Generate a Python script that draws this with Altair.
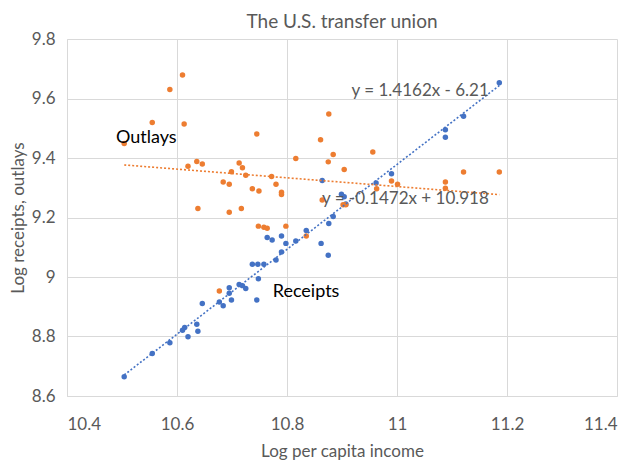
import altair as alt
import pandas as pd

receipts_x = [10.504, 10.555, 10.587, 10.610, 10.614, 10.620, 10.636, 10.638, 10.646, 10.677,
              10.684, 10.695, 10.695, 10.699, 10.713, 10.719, 10.725, 10.737, 10.745, 10.747,
              10.748, 10.758, 10.764, 10.773, 10.780, 10.790, 10.790, 10.798, 10.816, 10.835,
              10.862, 10.864, 10.875, 10.876, 10.884, 10.899, 10.904, 10.907, 10.962, 10.990,
              11.088, 11.088, 11.121, 11.186]
receipts_y = [8.665, 8.743, 8.779, 8.821, 8.830, 8.799, 8.841, 8.818, 8.911, 8.916,
              8.903, 8.964, 8.945, 8.923, 8.975, 8.971, 8.961, 9.043, 8.923, 9.043,
              8.994, 9.043, 9.133, 9.124, 9.057, 9.138, 9.084, 9.113, 9.121, 9.156,
              9.113, 9.324, 9.073, 9.180, 9.203, 9.278, 9.270, 9.245, 9.316, 9.347,
              9.495, 9.470, 9.540, 9.653]

outlays_x = [10.504, 10.555, 10.587, 10.610, 10.613, 10.620, 10.636, 10.638, 10.646, 10.677,
             10.684, 10.695, 10.695, 10.699, 10.713, 10.717, 10.719, 10.725, 10.737, 10.745,
             10.748, 10.749, 10.758, 10.764, 10.772, 10.780, 10.790, 10.790, 10.798, 10.816,
             10.835, 10.861, 10.864, 10.875, 10.876, 10.884, 10.902, 10.904, 10.907, 10.956,
             10.963, 10.990, 11.001, 11.088, 11.088, 11.121, 11.186]
outlays_y = [9.449, 9.519, 9.630, 9.679, 9.514, 9.372, 9.388, 9.230, 9.380, 8.953,
             9.319, 9.312, 9.218, 9.354, 9.383, 9.230, 9.367, 9.342, 9.297, 9.481,
             9.171, 9.289, 9.167, 9.164, 9.338, 9.312, 9.285, 9.277, 9.171, 9.398,
             9.138, 9.461, 9.259, 9.387, 9.548, 9.412, 9.243, 9.361, 9.243, 9.420,
             9.297, 9.323, 9.312, 9.319, 9.298, 9.353, 9.353]

series_names = ["Receipts", "Outlays"]
series_colors = ["#4472C4", "#ED7D31"]

eq_labels = ["y = 1.4162x - 6.21", "y = -0.1472x + 10.918"]
eq_x = [11.167, 11.167]
eq_y = [9.625, 9.262]

name_labels = ["Outlays", "Receipts"]
name_x = [10.489, 10.774]
name_y = [9.466, 8.949]

df = pd.concat([
    pd.DataFrame({"x": receipts_x, "y": receipts_y, "series": "Receipts"}),
    pd.DataFrame({"x": outlays_x, "y": outlays_y, "series": "Outlays"}),
], ignore_index=True)

eq_df = pd.DataFrame({"label": eq_labels, "x": eq_x, "y": eq_y})
name_df = pd.DataFrame({"label": name_labels, "x": name_x, "y": name_y})

FONT = "Lato"
GRAY = "#595959"

xs = alt.Scale(domain=[10.4, 11.4], nice=False, zero=False)
ys = alt.Scale(domain=[8.6, 9.8], nice=False, zero=False)
color = alt.Color("series:N", scale=alt.Scale(domain=series_names, range=series_colors), legend=None)

x_enc = alt.X("x:Q", scale=xs, title="Log per capita income",
              axis=alt.Axis(values=[10.4, 10.6, 10.8, 11.0, 11.2, 11.4], labelExpr="datum.value == 11 ? '11' : format(datum.value, '.1f')"))
y_enc = alt.Y("y:Q", scale=ys, title="Log receipts, outlays",
              axis=alt.Axis(values=[8.6, 8.8, 9.0, 9.2, 9.4, 9.6, 9.8], labelExpr="datum.value == 9 ? '9' : format(datum.value, '.1f')"))

points = alt.Chart(df).mark_circle(size=30, opacity=1).encode(
    x=x_enc, y=y_enc, color=color,
    order=alt.Order("series:N", sort="descending"),
)

trend = alt.Chart(df).transform_regression(
    "x", "y", groupby=["series"]
).mark_line(strokeDash=[2, 2], strokeWidth=1.6).encode(
    x=alt.X("x:Q", scale=xs), y=alt.Y("y:Q", scale=ys), color=color
)

eq_text = alt.Chart(eq_df).mark_text(
    align="right", baseline="middle", fontSize=17, font=FONT, color=GRAY
).encode(x=alt.X("x:Q", scale=xs), y=alt.Y("y:Q", scale=ys), text="label:N")

name_text = alt.Chart(name_df).mark_text(
    align="left", baseline="middle", fontSize=18, font=FONT, color="#000000"
).encode(x=alt.X("x:Q", scale=xs), y=alt.Y("y:Q", scale=ys), text="label:N")

chart = alt.layer(points, trend, eq_text, name_text).properties(
    width=550, height=357,
    title=alt.TitleParams("The U.S. transfer union", font=FONT, fontSize=19,
                          fontWeight="normal", color=GRAY, offset=0, dy=2),
    autosize=alt.AutoSizeParams(type="none"),
    padding={"left": 59, "top": 31, "right": 13, "bottom": 70},
).configure_view(
    stroke=None
).configure_axis(
    grid=True, gridColor="#d9d9d9", gridWidth=1,
    domainColor="#d9d9d9", domainWidth=1,
    ticks=False,
    labelFont=FONT, labelFontSize=17, labelColor=GRAY,
    titleFont=FONT, titleFontSize=17, titleColor=GRAY, titleFontWeight="normal",
).configure_axisX(
    labelPadding=20, titlePadding=11,
).configure_axisY(
    labelPadding=12, titlePadding=4,
)

chart.save("out.html", embed_options={"renderer": "svg", "actions": False})
